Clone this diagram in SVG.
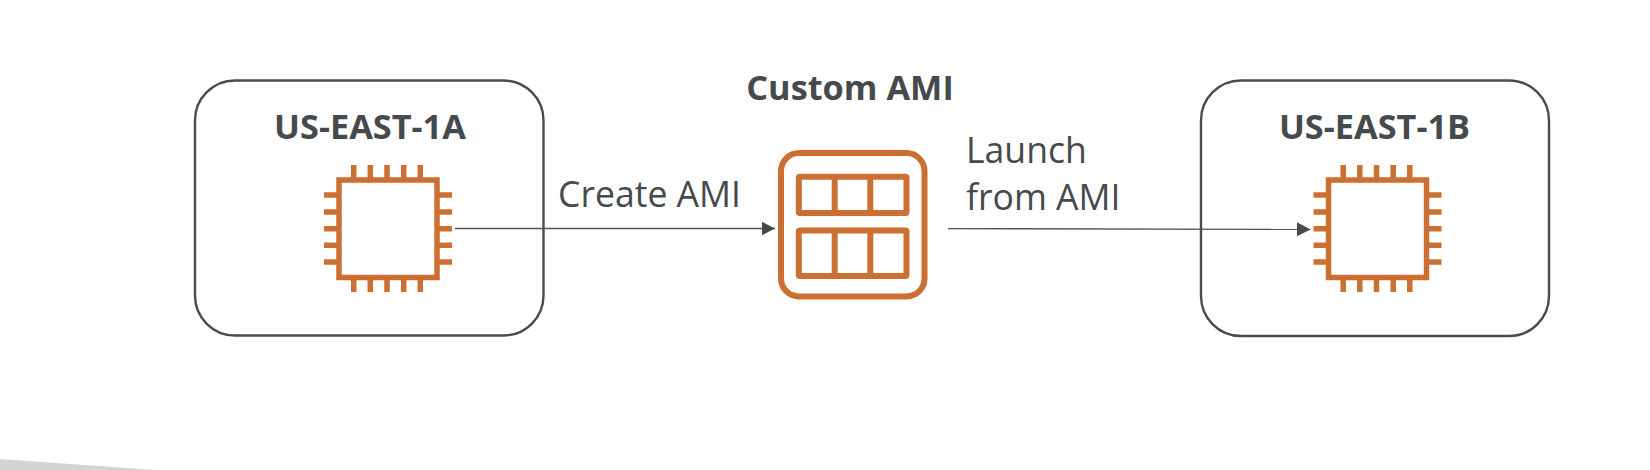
<svg xmlns="http://www.w3.org/2000/svg" xmlns:xlink="http://www.w3.org/1999/xlink" width="1650" height="470" viewBox="0 0 1650 470">
<style>
.box{fill:none;stroke:#474c4e;stroke-width:2.4}
.b{font-family:"Open Sans","Noto Sans",sans-serif;font-weight:700;font-size:34.300px;fill:#454a4c}
.r{font-family:"Open Sans","Noto Sans",sans-serif;font-size:35.600px;fill:#454a4c}
.o{fill:none;stroke:#cc6f32;stroke-width:5.500}
.o2{fill:none;stroke:#cc6f32;stroke-width:6;stroke-linejoin:round}
.c{fill:none;stroke:#505557;stroke-width:1.300}
</style>
<defs>
<marker id="arrow" markerUnits="userSpaceOnUse" markerWidth="15" markerHeight="15" refX="13.500" refY="7" orient="auto"><path d="M0 0L13.500 7L0 14Z" fill="#454a4c"/></marker>
<g id="chip">
<rect class="o" x="339" y="180" width="98" height="97.500"/>
<path class="o" d="M353.700 165V178M370.300 165V178M387 165V178M403.700 165V178M420.300 165V178M353.700 279V292M370.300 279V292M387 279V292M403.700 279V292M420.300 279V292M324 195H337M324 212H337M324 228.700H337M324 245.300H337M324 262H337M439 195H452M439 212H452M439 228.700H452M439 245.300H452M439 262H452"/>
</g>
</defs>
<rect width="1650" height="470" fill="#ffffff"/>
<path d="M0 459L155 470H0Z" fill="#d4d4d4"/>
<g id="node-us-east-1a">
<rect class="box" x="195" y="80.500" width="348.500" height="255" rx="40"/>
<text class="b" x="370" y="139" text-anchor="middle">US-EAST-1A</text>
<use xlink:href="#chip" href="#chip"/>
</g>
<g id="node-custom-ami">
<text class="b" x="850" y="99.500" text-anchor="middle">Custom AMI</text>
<rect class="o2" x="781" y="153" width="143.500" height="143.500" rx="18"/>
<rect class="o2" x="798.800" y="176.800" width="107.700" height="36.200" rx="1"/>
<path class="o2" d="M834.700 177V213M870.300 177V213"/>
<rect class="o2" x="798.800" y="230.500" width="107.700" height="45.500" rx="1"/>
<path class="o2" d="M834.700 231V276M870.300 231V276"/>
</g>
<g id="node-us-east-1b">
<rect class="box" x="1201" y="80.500" width="348" height="255.500" rx="40"/>
<text class="b" x="1374.500" y="139" text-anchor="middle">US-EAST-1B</text>
<use xlink:href="#chip" href="#chip" x="989.500"/>
</g>
<g id="connectors">
<path class="c" d="M455 228.500H775" marker-end="url(#arrow)"/>
<path class="c" d="M948 228.600L1310.500 229.400" marker-end="url(#arrow)"/>
</g>
<text class="r" x="558" y="207">Create AMI</text>
<text class="r" x="966" y="163">Launch</text>
<text class="r" x="966" y="210">from AMI</text>
</svg>
